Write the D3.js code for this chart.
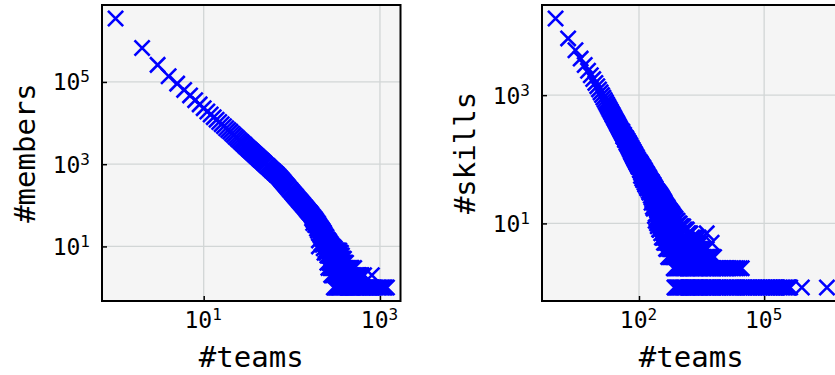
<!DOCTYPE html>
<meta charset="utf-8">
<style>
    body { margin: 0; background: #fff; }
    .tick text, .axis-label { font-family: "DejaVu Sans Mono", monospace; fill: #000; }
    .tick line { stroke: #000; stroke-width: 1.5; }
    .grid line { stroke: #d2d6d6; stroke-width: 1.3; }
    .mark { fill: none; stroke: #0000ff; stroke-width: 2.6; }
</style>

<svg width="835" height="375"></svg>
<script src="https://d3js.org/d3.v7.min.js"></script>

<script>
    // #teams vs #members: one row per team count, [teams, members, members, ...]
    var membersRows = [
        [1,3500000],[2,670000],[3,260000],[4,138000],[5,91000],[6,64000],[7,47000],[8,36000],[9,28500],
        [10,23000],[11,19100],[12,16200],[13,13900],[14,12100],[15,10600],[16,9400],[17,8400],[18,7500],
        [19,6800],[20,6200],[21,5600],[22,5100],[23,4650],[24,4300],[25,3950],[26,3650],[27,3400],[28,3150],
        [29,2950],[30,2750],[31,2580],[32,2420],[33,2280],[34,2150],[35,2030],[36,1920],[37,1820],[38,1730],
        [39,1640],[40,1560],[41,1490],[42,1420],[43,1350],[44,1290],[45,1240],[46,1190],[47,1140],[48,1090],
        [49,1050],[50,1000],[52,930],[53,900],[54,865],[56,805],[57,777],[59,725],[60,702],[62,660],[64,618],
        [65,600],[67,565],[68,550],[70,518],[72,486],[74,454],[76,425],[78,398],[80,373],[82,351],[84,331],
        [86,312],[88,294],[90,278],[92,263],[95,243],[97,231],[100,214],[102,203],[105,189],[107,180],
        [110,168],[112,161],[115,151],[118,141],[121,133],[124,125],[127,118],[130,111],[134,103],[137,97],
        [141,91],[144,86],[148,80],[151,76],[155,71],[159,67],[163,63],[167,59],
        [170,55,48],[175,52,44,37],[180,48,41],[184,45,38,33],[188,42,36],[193,39,32,27],[198,36,30,24],
        [203,33,27,14,10],[208,30,25,20],[213,28,23,18],[218,26,21,16,12],[224,24,19,15,11],
        [230,22,18,13,9],[235,20,16,12,7],[241,18,15,11,8],[247,17,14,10,7],[253,15,12,9,6,4],
        [260,14,11,8,6,3],[266,13,10,8,6,4],[273,12,10,8,6,4,3],[280,11,9,7,5,3,2],[287,10,8,6,4,3,2],
        [293,10,8,6,5,3,2],[300,9,7,5,4,3,1],[307,9,7,5,4,3,2,1],[315,8,7,6,4,3,2,1],[322,8,6,5,4,3,2,1],
        [330,8,6,5,4,3,2,1],[338,7,6,5,4,3,2,1],[345,8,6,5,4,3,2,1],[352,7,6,5,4,3,2,1],[360,7,5,4,3,2,1],
        [370,6,5,4,3,2,1],[380,5,4,3,2,1],[390,5,4,3,2,1],[400,4,3,2,1],[412,4,3,2,1],[425,3,2,1],
        [437,3,2,1],[450,3,2,1],[465,3,2,1],[480,3,2,1],[495,2,1],[510,3,2,1],[527,2,1],[545,2,1],
        [562,2,1],[580,2,1],[600,2,1],[620,2,1],[640,1],[660,2,1],[680,1],[700,1],[725,1],[750,1],
        [775,1],[810,2,1],[840,1],[870,1],[905,1],[940,1],[975,1],[1010,1],[1050,1],[1090,1],
        [1120,1],[1150,1],[1200,1]
    ];

    // #teams vs #skills
    var skillsRows = [
        [1,15700],[2,7660],[3,5010],[4,3720],[5,2950],[6,2400],[7,2040],[8,1780],[9,1550],[10,1380],
        [11,1229],[12,1105],[13,1002],[14,916],[15,842],[16,778],[17,723],[18,674],[19,631],[20,593],
        [21,559],[22,528],[23,500],[24,475],[25,451],[26,430],[27,411],[28,393],[29,377],[30,362],
        [31,347],[32,334],[33,321],[34,310],[35,299],[36,289],[37,280],[38,271],[39,262],[40,254,270],
        [41,247],[42,240,226],[43,233],[44,226,242],[45,220],[46,214,200],[47,209],[48,204,218],[49,199],
        [50,194,210,180],[52,185,172],[53,180,196],[55,173,160],[56,169,184],[58,162,150],[59,158,174],
        [61,152,140],[62,149,164],[64,143,131],[66,138,152,126],[68,133,122],[70,129,142,117],[72,124,113],
        [74,120,133,109],[76,116,106],[78,113,125,102],[80,109,99],[82,106,118,96],[84,103,93],
        [86,100,111,90],[88,97,88],[90,95,106,86],[92,92,83],[95,89,99,80],[97,86,77],[100,83,93,75],
        [105,79,68,90],[108,76,66,87],[112,73,62,84,55],[116,70,60,80],[120,67,57,77,50],[126,64,54,75,47],
        [131,61,52,71],[136,58,49,68,43],[141,56,47,66,40],[147,53,44,62],[152,51,43,60,37],
        [158,49,41,58,35],[165,46,39,55],[171,44,37,53,32],[178,42,35,51,30],[185,40,33,48],
        [192,38,31,46,27],[200,37,30,45,25,21],[208,35,29,43,23],[216,33,27,41,22,18],[224,32,26,40,21,17],
        [233,30,25,38,19],[242,29,24,36,18,13],[251,28,23,35,18,14,11],[261,27,22,33,17,12],
        [271,26,21,32,16,11,10],[282,25,20,31,16,12,9],[293,24,19,30,15,11],[305,23,18,29,14,10,8],
        [316,22,17,28,14,10,8],[328,21,16,27,13,9],[341,20,15,26,12,9,7],[355,19,15,25,12,9,6],
        [369,18,14,24,11,8],[383,17,13,23,10,7,6],[398,16,13,22,10,7,5],[414,15,12,21,9,6],
        [430,15,12,20,9,6,5],[447,14,12,19,9,6,4],[465,14,11,18,8,5],[483,13,11,18,8,5,4],
        [501,13,10,17,8,5,3],[521,12,10,16,7,5,3],[541,12,9,16,7,4],[562,11,9,15,7,4,3],
        [584,11,8,15,6,4,3],[607,10,8,14,6,4],[631,10,8,14,6,4,3],[656,10,7,13,5,3],[681,9,7,13,5,3,2],
        [708,9,7,12,5,3,2,1],[750,8,6,12,5,3,2,1],[794,8,6,11,5,3,2,1],[840,7,6,11,4,3,2,1],
        [891,7,6,10,4,3,2,1],[945,7,5,10,4,3,2,1],[1000,7,5,9,4,3,2,1],[1070,6,5,9,4,3,2,1],
        [1150,6,5,9,4,3,2,1],[1220,6,4,8,3,2,1],[1300,6,4,8,3,2,1],[1400,5,4,8,3,2,1],
        [1500,5,4,7,3,2,1],[1600,5,4,7,3,2,1],[1700,5,4,7,3,2,1],[1850,5,4,6,3,2,1],[2000,5,4,6,3,2,1],
        [2150,4,5,6,3,2,1],[2300,4,5,6,3,2,1],[2500,4,5,3,2,1],[2700,4,5,6,3,2,1],[2900,4,3,2,1],
        [3100,4,5,3,2,1],[3350,4,3,2,1],[3600,4,3,2,1],[3900,4,3,2,1],[4200,7,4,3,2,1],[4500,3,2,1],
        [4800,3,2,1],[5100,3,2,1],[5500,5,3,2,1],[5900,3,2,1],[6300,3,2,1],[6900,2,1],[7500,2,1],
        [8200,2,1],[9000,2,1],[10000,2,1],[11000,2,1],[12000,2,1],[13000,2,1],[14500,2,1],[16000,2,1],
        [17500,2,1],[19000,2,1],[21000,2,1],[23000,2,1],[26000,2,1],[29000,2,1],
        [32000,1],[35000,1],[39000,1],[42000,1],[46000,1],[50000,1],[55000,1],[60000,1],[66000,1],
        [72000,1],[79000,1],[87000,1],[95000,1],[105000,1],[115000,1],[125000,1],[137000,1],[150000,1],
        [165000,1],[180000,1],[197000,1],[215000,1],[237000,1],[260000,1],[285000,1],[310000,1],
        [340000,1],[370000,1],[395000,1],[420000,1],[800000,1],[3200000,1]
    ];

    var membersXTicks = [10, 1000], membersYTicks = [10, 1000, 100000];
    var skillsXTicks = [100, 100000], skillsYTicks = [10, 1000];

    function unfold(rows) {
        var pts = [];
        rows.forEach(function (r) {
            for (var i = 1; i < r.length; i++) pts.push([r[0], r[i]]);
        });
        return pts;
    }

    // matplotlib-like 5% margin on a log axis
    function logDomain(vals) {
        var lo = Math.log10(d3.min(vals)), hi = Math.log10(d3.max(vals)), m = (hi - lo) * 0.05;
        return [Math.pow(10, lo - m), Math.pow(10, hi + m)];
    }

    function pow10Label(sel) {
        sel.each(function (d) {
            var t = d3.select(this).text(null);
            t.append("tspan").style("font-size", "23px").text("10");
            t.append("tspan").style("font-size", "16px").attr("dy", -8).text(Math.round(Math.log10(d)));
        });
    }

    var svg = d3.select("svg");
    var plotTop = 5, plotBottom = 301, plotW = 298.5;

    function drawPanel(id, left, data, xTicks, yTicks, xTitle, yTitle, yTitleX) {
        var x = d3.scaleLog().domain(logDomain(data.map(function (d) { return d[0]; }))).range([left, left + plotW]);
        var y = d3.scaleLog().domain(logDomain(data.map(function (d) { return d[1]; }))).range([plotBottom, plotTop]);
        var g = svg.append("g");
        var hgt = plotBottom - plotTop;

        svg.append("clipPath").attr("id", id).append("rect")
            .attr("x", left).attr("y", plotTop).attr("width", plotW).attr("height", hgt);

        g.append("rect").attr("x", left).attr("y", plotTop).attr("width", plotW).attr("height", hgt)
            .style("fill", "#f5f5f5");

        var grid = g.append("g").attr("class", "grid");
        grid.selectAll(".gx").data(xTicks).enter().append("line")
            .attr("x1", x).attr("x2", x).attr("y1", plotTop).attr("y2", plotBottom);
        grid.selectAll(".gy").data(yTicks).enter().append("line")
            .attr("y1", y).attr("y2", y).attr("x1", left).attr("x2", left + plotW);

        var h = 7.6;
        g.append("g").attr("clip-path", "url(#" + id + ")")
            .selectAll("path").data(data).enter().append("path")
            .attr("class", "mark")
            .attr("d", "M" + -h + "," + -h + "L" + h + "," + h + "M" + -h + "," + h + "L" + h + "," + -h)
            .attr("transform", function (d) { return "translate(" + x(d[0]) + "," + y(d[1]) + ")"; });

        g.append("rect").attr("x", left).attr("y", plotTop).attr("width", plotW).attr("height", hgt)
            .style("fill", "none").style("stroke", "#000").style("stroke-width", 2);

        var xa = g.append("g").attr("transform", "translate(0," + plotBottom + ")")
            .call(d3.axisBottom(x).tickValues(xTicks).tickSizeInner(-5).tickSizeOuter(0));
        xa.select(".domain").remove();
        xa.selectAll(".tick text").attr("y", 27).attr("dy", null).attr("x", -1)
            .attr("text-anchor", "middle").call(pow10Label);

        var ya = g.append("g").attr("transform", "translate(" + left + ",0)")
            .call(d3.axisLeft(y).tickValues(yTicks).tickSizeInner(-5).tickSizeOuter(0));
        ya.select(".domain").remove();
        ya.selectAll(".tick text").attr("x", -12).attr("dy", null).attr("y", 8)
            .attr("text-anchor", "end").call(pow10Label);

        g.append("text").attr("class", "axis-label")
            .attr("x", left + plotW / 2).attr("y", 366.5).attr("text-anchor", "middle")
            .style("font-size", "29px").text(xTitle);
        g.append("text").attr("class", "axis-label")
            .attr("transform", "translate(" + yTitleX + "," + (plotTop + plotBottom) / 2 + ") rotate(-90)")
            .attr("text-anchor", "middle").style("font-size", "29px").text(yTitle);
    }

    drawPanel("clipA", 102, unfold(membersRows), membersXTicks, membersYTicks, "#teams", "#members", 35);
    drawPanel("clipB", 542, unfold(skillsRows), skillsXTicks, skillsYTicks, "#teams", "#skills", 475);
</script>
